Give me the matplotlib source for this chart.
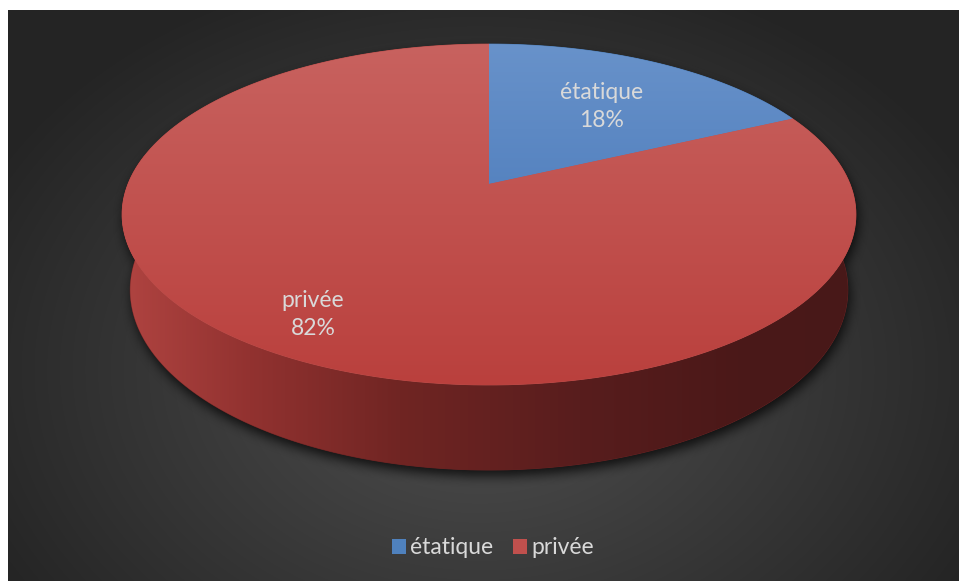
import numpy as np
import matplotlib.pyplot as plt
from matplotlib.patches import Polygon, Patch
from matplotlib.path import Path

plt.rcParams['font.family'] = ['Lato', 'DejaVu Sans']

labels = ['étatique', 'privée']
values = [18, 82]
colors = ['#4f81bd', '#c0504d']
# top face shading: colour at the far rim, colour at the near rim
top_light = [(104, 146, 202), (200, 98, 95)]
top_dark = [(60, 110, 178), (186, 64, 61)]
label_r = [0.64, 0.8]

W, H = 959, 581
fig = plt.figure(figsize=(W / 100, H / 100), dpi=100)
ax = fig.add_axes([0, 0, 1, 1])
ax.set_xlim(0, W)
ax.set_ylim(H, 0)
ax.axis('off')

yy, xx = np.mgrid[0:H, 0:W] + 0.5

# dark plot area with a soft radial glow
r = np.sqrt(((xx - 480) / 560) ** 2 + ((yy - 370) / 420) ** 2)
t = np.clip(r, 0, 1)[..., None]
bg = (np.array([80, 80, 80]) * (1 - t) + np.array([36, 36, 36]) * t) / 255
ax.imshow(bg[10:, 8:], extent=(8, W, H, 10), zorder=0, interpolation='bilinear')

# perspective camera for the 3d pie
phi = np.radians(27.2)
D, f, h = 4.97, 1794, 0.237
cx, cy = 489, 184


def proj(X, Y, Z):
    w = D + Y * np.cos(phi) - Z * np.sin(phi)
    v = Y * np.sin(phi) + Z * np.cos(phi)
    return np.column_stack([cx + f * X / w, cy - f * v / w])


def rim(a0, a1, z, n=200):
    th = np.radians(np.linspace(a0, a1, n))
    return proj(np.sin(th), np.cos(th), np.full(n, z))


frac = np.array(values) / np.sum(values)
edges = np.concatenate([[0], np.cumsum(frac)]) * 360

top_all = rim(0, 360, 0, 400)
wall = np.vstack([rim(80, 280, 0), rim(280, 80, -h)])

# drop shadow under the pie
pix = np.column_stack([xx.ravel() - 2, yy.ravel() - 6])
inside = Path(top_all).contains_points(pix) | Path(wall).contains_points(pix)
mask = inside.reshape(H, W).astype(float)
k = np.ones(13) / 13
for _ in range(2):
    mask = np.apply_along_axis(lambda m: np.convolve(m, k, mode='same'), 0, mask)
    mask = np.apply_along_axis(lambda m: np.convolve(m, k, mode='same'), 1, mask)
shadow = np.zeros((H, W, 4))
shadow[..., 3] = 0.75 * mask
ax.imshow(shadow, extent=(0, W, H, 0), zorder=1)

# side wall, darker towards the right
stops_x = [122, 250, 400, 580, 750, 860]
stops_c = np.array([(176, 68, 65), (146, 50, 48), (112, 37, 35), (88, 29, 29), (74, 24, 24), (72, 24, 24)])
col = np.stack([np.interp(xx[0], stops_x, stops_c[:, i]) for i in range(3)], -1) / 255
wall_img = np.repeat(col[None], H, axis=0)
wp = Polygon(wall, closed=True, fc='#6a2424', ec='#6a2424', lw=0.6, zorder=2)
ax.add_patch(wp)
im = ax.imshow(wall_img, extent=(0, W, H, 0), zorder=2.1)
im.set_clip_path(wp)

# top face slices
y_top, y_bot = top_all[:, 1].min(), top_all[:, 1].max()
for i in range(len(values)):
    pts = np.vstack([proj(np.zeros(1), np.zeros(1), np.zeros(1)), rim(edges[i], edges[i + 1], 0)])
    sp = Polygon(pts, closed=True, fc=colors[i], ec=colors[i], lw=0.6, zorder=3)
    ax.add_patch(sp)
    tt = np.clip((yy[:, :1] - y_top) / (y_bot - y_top), 0, 1)
    g = (np.array(top_light[i]) * (1 - tt) + np.array(top_dark[i]) * tt) / 255
    img = np.repeat(g[:, None, :], W, axis=1).reshape(H, W, 3)
    im = ax.imshow(img, extent=(0, W, H, 0), zorder=3.1)
    im.set_clip_path(sp)

    mid = np.radians((edges[i] + edges[i + 1]) / 2)
    lx, ly = proj(np.array([label_r[i] * np.sin(mid)]), np.array([label_r[i] * np.cos(mid)]), np.zeros(1))[0]
    ax.text(lx, ly + 4, '%s\n%d%%' % (labels[i], round(frac[i] * 100)), ha='center', va='center',
            color='#d9d9d9', fontsize=16.5, linespacing=1.4, zorder=5)

handles = [Patch(fc=colors[i], ec='none', label=labels[i]) for i in range(len(values))]
fig.legend(handles=handles, loc='center', bbox_to_anchor=(493 / W, 1 - 548 / H), ncol=2,
           frameon=False, fontsize=16.5, labelcolor='#d9d9d9', handlelength=0.62, handleheight=0.62,
           handletextpad=0.2, columnspacing=0.85)

fig.savefig('out.png', dpi=100, facecolor='white')
